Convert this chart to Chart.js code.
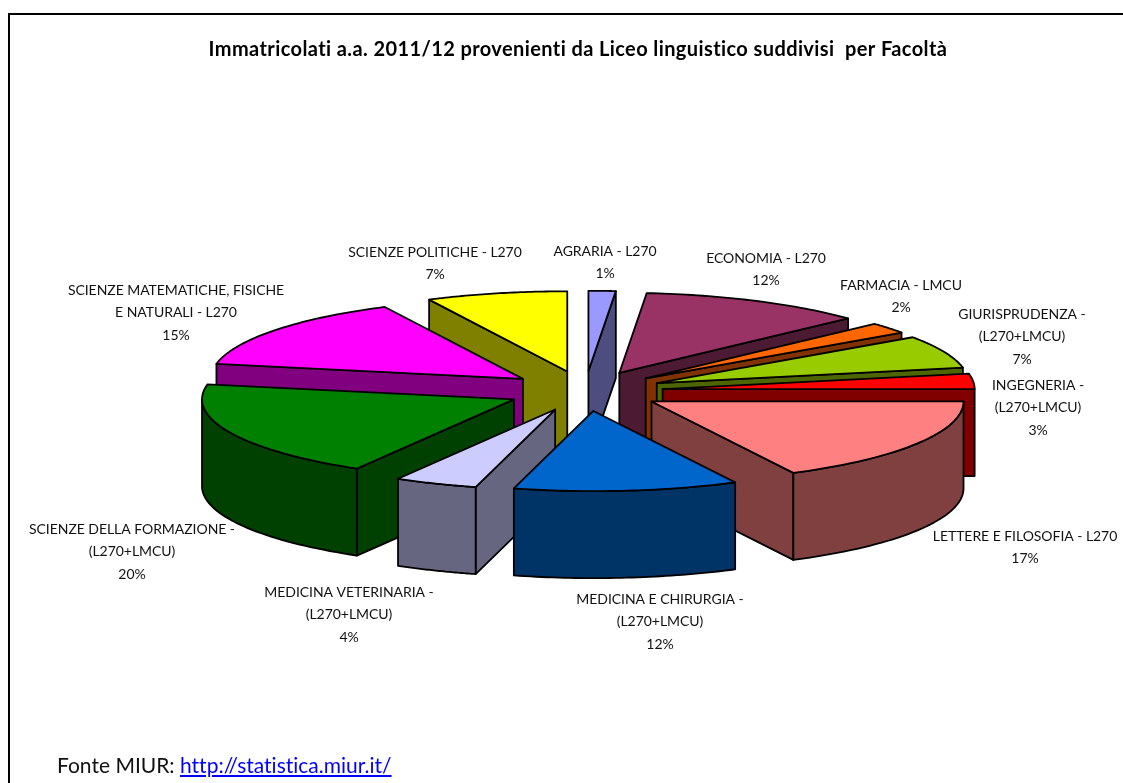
<!DOCTYPE html>
<html>
<head>
<meta charset="utf-8">
<script src="https://cdn.jsdelivr.net/npm/chart.js@4/dist/chart.umd.min.js"></script>
<style>
html,body{margin:0;padding:0;background:#fff;overflow:hidden;width:1123px;height:783px}
#frame{position:absolute;left:8px;top:13px;width:1140px;height:770px;box-shadow:inset 2px 2px 0 #000}
#frame canvas{position:absolute;left:0;top:0}
#src{position:absolute;left:57px;top:752px;font:21px Lato,sans-serif;color:#111;white-space:pre;font-variant-ligatures:none}
#src a{color:#0000ff;text-decoration:underline}
</style>
</head>
<body>
<div id="frame"><canvas id="c" width="1140" height="770"></canvas></div>
<div id="src">Fonte MIUR: <a href="http://statistica.miur.it/">http://statistica.miur.it/</a></div>
<script>
const titleText = 'Immatricolati a.a. 2011/12 provenienti da Liceo linguistico suddivisi  per Facoltà';
const categories = ['AGRARIA - L270','ECONOMIA - L270','FARMACIA - LMCU','GIURISPRUDENZA - (L270+LMCU)','INGEGNERIA - (L270+LMCU)','LETTERE E FILOSOFIA - L270','MEDICINA E CHIRURGIA - (L270+LMCU)','MEDICINA VETERINARIA - (L270+LMCU)','SCIENZE DELLA FORMAZIONE - (L270+LMCU)','SCIENZE MATEMATICHE, FISICHE E NATURALI - L270','SCIENZE POLITICHE - L270'];
const percentages = [1.4,11.7,2.2,6.6,3.1,17.49,11.61,4.3,19.6,14.7,7.3];
const topColors = ['#9999FF','#993366','#FF6600','#99CC00','#FF0000','#FF8080','#0066CC','#CCCCFF','#008000','#FF00FF','#FFFF00'];
const wallColors = ['#4D4D80','#4D1A33','#803300','#4D6600','#800000','#804040','#003366','#666680','#004000','#800080','#808000'];
const labelLines = [['AGRARIA - L270'],['ECONOMIA - L270'],['FARMACIA - LMCU'],['GIURISPRUDENZA -','(L270+LMCU)'],['INGEGNERIA -','(L270+LMCU)'],['LETTERE E FILOSOFIA - L270'],['MEDICINA E CHIRURGIA -','(L270+LMCU)'],['MEDICINA VETERINARIA -','(L270+LMCU)'],['SCIENZE DELLA FORMAZIONE -','(L270+LMCU)'],['SCIENZE MATEMATICHE, FISICHE','E NATURALI - L270'],['SCIENZE POLITICHE - L270']];
// label block placement in page pixels: centre x, first line centre y
const labelX = [605,766,901,1022,1038,1025,660,349,132,176,435];
const labelY = [251,258,285,314,385,536,599,592,529,290,252];

const radiusPx = 312, explodePx = 78, tilt = 0.257, depthPx = 87, lineH = 22.7, pieShiftX = 7;

function ptOn(el, ang, dx, dy, r){ // angle in canvas radians, flattened to the screen
  return {x: el.x + dx + Math.cos(ang) * r, y: el.y + dy + Math.sin(ang) * r * tilt};
}
const pie3d = {
  id: 'pie3d',
  beforeDraw(chart){ chart.ctx.letterSpacing = '0.4px'; },
  beforeDatasetDraw(chart, args){
    const ctx = chart.ctx, arcs = args.meta.data;
    const order = arcs.map((_, i) => i).sort((a, b) => {
      const m = e => (e.startAngle + e.endAngle) / 2;
      return Math.sin(m(arcs[a])) - Math.sin(m(arcs[b]));
    });
    ctx.save();
    ctx.translate(pieShiftX, 0);
    ctx.lineWidth = 1.8; ctx.strokeStyle = '#000'; ctx.lineJoin = 'round';
    for (const i of order) {
      const el = arcs[i], a = el.startAngle, b = el.endAngle, r = el.outerRadius, mid = (a + b) / 2;
      const dx = Math.cos(mid) * explodePx, dy = Math.sin(mid) * explodePx * tilt;
      const ax = el.x + dx, ay = el.y + dy;
      ctx.fillStyle = wallColors[i];
      // radial walls facing the viewer
      const wall = ang => {
        const p = ptOn(el, ang, dx, dy, r);
        ctx.beginPath(); ctx.moveTo(ax, ay); ctx.lineTo(p.x, p.y);
        ctx.lineTo(p.x, p.y + depthPx); ctx.lineTo(ax, ay + depthPx); ctx.closePath();
        ctx.fill(); ctx.stroke();
      };
      if (Math.cos(a) < 0) wall(a);   // start edge
      if (Math.cos(b) > 0) wall(b);   // end edge
      // outer rim, front half only
      const s = Math.max(a, 0), e = Math.min(b, Math.PI), N = 40;
      if (e > s) {
        ctx.beginPath();
        for (let k = 0; k <= N; k++) { const p = ptOn(el, s + (e - s) * k / N, dx, dy, r); k ? ctx.lineTo(p.x, p.y) : ctx.moveTo(p.x, p.y); }
        for (let k = N; k >= 0; k--) { const p = ptOn(el, s + (e - s) * k / N, dx, dy, r); ctx.lineTo(p.x, p.y + depthPx); }
        ctx.closePath(); ctx.fill(); ctx.stroke();
      }
      // top face: the library's own arc element, flattened
      ctx.save();
      ctx.translate(ax, ay); ctx.scale(1, tilt); ctx.translate(-el.x, -el.y);
      el.draw(ctx);
      ctx.restore();
      // outline of the top face
      ctx.beginPath(); ctx.moveTo(ax, ay);
      for (let k = 0; k <= N; k++) { const p = ptOn(el, a + (b - a) * k / N, dx, dy, r); ctx.lineTo(p.x, p.y); }
      ctx.closePath(); ctx.stroke();
    }
    ctx.restore();
    return false;
  },
  afterDraw(chart){
    const ctx = chart.ctx, box = chart.canvas.parentNode;
    const ox = box.offsetLeft, oy = box.offsetTop;
    ctx.save();
    ctx.letterSpacing = '-0.05px';
    ctx.font = '14px Lato, sans-serif'; ctx.fillStyle = '#111';
    ctx.textAlign = 'center'; ctx.textBaseline = 'middle';
    const total = percentages.reduce((s, v) => s + v, 0);
    percentages.forEach((v, i) => {
      const lines = labelLines[i].concat(Math.round(v / total * 100) + '%');
      lines.forEach((t, j) => ctx.fillText(t, labelX[i] - ox, labelY[i] - oy + j * lineH));
    });
    ctx.restore();
  }
};
new Chart(document.getElementById('c'), {
  type: 'pie',
  data: { labels: categories, datasets: [{ data: percentages, backgroundColor: topColors, borderWidth: 0, radius: radiusPx }] },
  options: {
    responsive: false, animation: false,
    layout: { padding: { left: 0, right: 0, top: 0, bottom: 63 } },
    plugins: {
      legend: { display: false }, tooltip: { enabled: false },
      title: { display: true, text: titleText, color: '#000', font: { family: 'Lato, sans-serif', size: 20, weight: 'bold' }, padding: { top: 25, bottom: 0 } }
    }
  },
  plugins: [pie3d]
});
</script>
</body>
</html>
